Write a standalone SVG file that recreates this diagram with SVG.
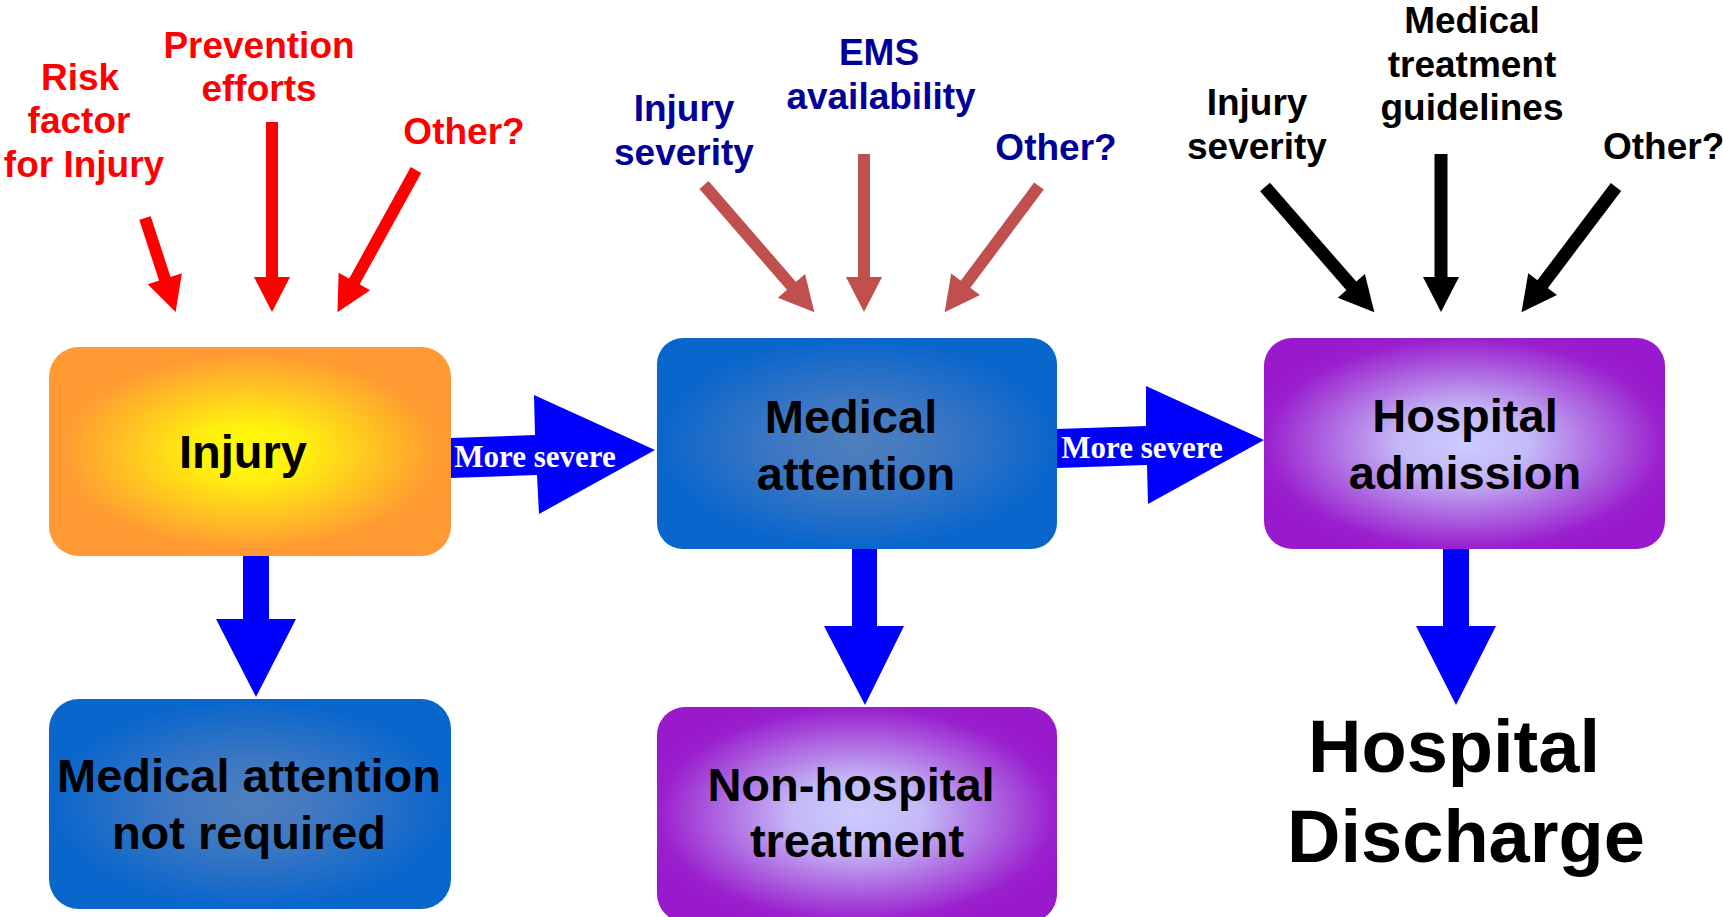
<svg xmlns="http://www.w3.org/2000/svg" width="1723" height="917" viewBox="0 0 1723 917">
<style>
.lbl{font-family:"Liberation Sans",Arial,sans-serif;font-weight:bold;font-size:37px;text-anchor:middle}
.red{fill:#FF0000}
.navy{fill:#000099}
.blk{fill:#000000}
.box{font-family:"Liberation Sans",Arial,sans-serif;font-weight:bold;font-size:47px;text-anchor:middle;fill:#000}
.sev{font-family:"Liberation Serif","Times New Roman",serif;font-weight:bold;font-size:31px;fill:#FFFFFF;text-anchor:middle}
.big{fill:#0000FF}
</style>
<defs>
<radialGradient id="gInjury" cx="0.5" cy="0.5" r="0.55">
<stop offset="0" stop-color="#FFFF00"/>
<stop offset="0.25" stop-color="#FFEF10"/>
<stop offset="0.85" stop-color="#FF9B33"/>
<stop offset="1" stop-color="#FF9933"/>
</radialGradient>
<radialGradient id="gBlue" cx="0.5" cy="0.5" r="0.55">
<stop offset="0" stop-color="#4F7FBB"/>
<stop offset="0.35" stop-color="#3F78C2"/>
<stop offset="0.9" stop-color="#0A66CC"/>
<stop offset="1" stop-color="#0866CC"/>
</radialGradient>
<radialGradient id="gPurple" cx="0.5" cy="0.5" r="0.55">
<stop offset="0" stop-color="#CCCCFF"/>
<stop offset="0.3" stop-color="#C4B8F6"/>
<stop offset="0.9" stop-color="#9A20CE"/>
<stop offset="1" stop-color="#991ACC"/>
</radialGradient>
<marker id="hRed" markerUnits="userSpaceOnUse" markerWidth="38" markerHeight="40" viewBox="0 -19 38 38" refX="1" refY="0" orient="auto" overflow="visible">
<path d="M0,-18 L35,0 L0,18 Z" fill="#FF0000"/>
</marker>
<marker id="hBrown" markerUnits="userSpaceOnUse" markerWidth="38" markerHeight="40" viewBox="0 -19 38 38" refX="1" refY="0" orient="auto" overflow="visible">
<path d="M0,-18 L35,0 L0,18 Z" fill="#C0504D"/>
</marker>
<marker id="hBlack" markerUnits="userSpaceOnUse" markerWidth="38" markerHeight="40" viewBox="0 -19 38 38" refX="1" refY="0" orient="auto" overflow="visible">
<path d="M0,-18 L35,0 L0,18 Z" fill="#000000"/>
</marker>
</defs>
<rect width="1723" height="917" fill="#FFFFFF"/>

<g id="labels-red">
<text class="lbl red"><tspan x="80" y="90">Risk</tspan><tspan x="79" y="133">factor</tspan><tspan x="84" y="177">for Injury</tspan></text>
<text class="lbl red"><tspan x="259" y="58">Prevention</tspan><tspan x="259" y="101">efforts</tspan></text>
<text class="lbl red" x="464" y="144">Other?</text>
</g>
<g id="labels-navy">
<text class="lbl navy"><tspan x="684" y="121">Injury</tspan><tspan x="684" y="165">severity</tspan></text>
<text class="lbl navy"><tspan x="879" y="65">EMS</tspan><tspan x="881" y="109">availability</tspan></text>
<text class="lbl navy" x="1056" y="160">Other?</text>
</g>
<g id="labels-black">
<text class="lbl blk"><tspan x="1257" y="115">Injury</tspan><tspan x="1257" y="159">severity</tspan></text>
<text class="lbl blk"><tspan x="1472" y="33">Medical</tspan><tspan x="1472" y="77">treatment</tspan><tspan x="1472" y="120">guidelines</tspan></text>
<text class="lbl blk" x="1603" y="159" style="text-anchor:start">Other?</text>
</g>

<g id="node-injury">
<rect x="49" y="347" width="402" height="209" rx="30" ry="30" fill="url(#gInjury)"/>
<text class="box" x="243" y="468">Injury</text>
</g>
<g id="node-medical-attention">
<rect x="657" y="338" width="400" height="211" rx="26" ry="26" fill="url(#gBlue)"/>
<text class="box"><tspan x="851" y="433">Medical</tspan><tspan x="856" y="490">attention</tspan></text>
</g>
<g id="node-hospital-admission">
<rect x="1264" y="338" width="401" height="211" rx="28" ry="28" fill="url(#gPurple)"/>
<text class="box"><tspan x="1465" y="432">Hospital</tspan><tspan x="1465" y="489">admission</tspan></text>
</g>
<g id="node-not-required">
<rect x="49" y="699" width="402" height="210" rx="30" ry="30" fill="url(#gBlue)"/>
<text class="box"><tspan x="249" y="792">Medical attention</tspan><tspan x="249" y="849">not required</tspan></text>
</g>
<g id="node-non-hospital">
<rect x="657" y="707" width="400" height="215" rx="28" ry="28" fill="url(#gPurple)"/>
<text class="box"><tspan x="851" y="801">Non-hospital</tspan><tspan x="857" y="857">treatment</tspan></text>
</g>
<g id="node-discharge">
<text font-family="Liberation Sans, Arial, sans-serif" font-weight="bold" font-size="74" text-anchor="middle" fill="#000"><tspan x="1454" y="772">Hospital</tspan><tspan x="1466" y="862">Discharge</tspan></text>
</g>

<g id="connectors">
<line x1="145" y1="218" x2="165.1" y2="279.7" stroke="#FF0000" stroke-width="12" marker-end="url(#hRed)"/>
<line x1="272" y1="122" x2="272" y2="278" stroke="#FF0000" stroke-width="12" marker-end="url(#hRed)"/>
<line x1="416" y1="170" x2="353.9" y2="282.4" stroke="#FF0000" stroke-width="12" marker-end="url(#hRed)"/>

<line x1="704" y1="185" x2="792.1" y2="286.6" stroke="#C0504D" stroke-width="12" marker-end="url(#hBrown)"/>
<line x1="864" y1="154" x2="864" y2="278" stroke="#C0504D" stroke-width="12" marker-end="url(#hBrown)"/>
<line x1="1039" y1="186" x2="965" y2="285" stroke="#C0504D" stroke-width="12" marker-end="url(#hBrown)"/>

<line x1="1265" y1="187" x2="1352" y2="286.6" stroke="#000000" stroke-width="13" marker-end="url(#hBlack)"/>
<line x1="1441" y1="154" x2="1441" y2="278" stroke="#000000" stroke-width="13" marker-end="url(#hBlack)"/>
<line x1="1616" y1="187" x2="1542" y2="285" stroke="#000000" stroke-width="13" marker-end="url(#hBlack)"/>

<polygon class="big" points="451,438 535,435 534,395 655,450 539,514 537,475 451,478"/>
<text class="sev" x="535" y="467">More severe</text>
<polygon class="big" points="1057,429 1146,426 1146,386 1264,440 1148,504 1147,465 1057,468"/>
<text class="sev" x="1142" y="458">More severe</text>

<polygon class="big" points="243,556 269,556 269,619 296,619 256,697 216,619 243,619"/>
<polygon class="big" points="852,549 877,549 877,626 904,626 865,705 824,626 852,626"/>
<polygon class="big" points="1443,549 1469,549 1469,626 1496,626 1456,705 1416,626 1443,626"/>
</g>
</svg>
